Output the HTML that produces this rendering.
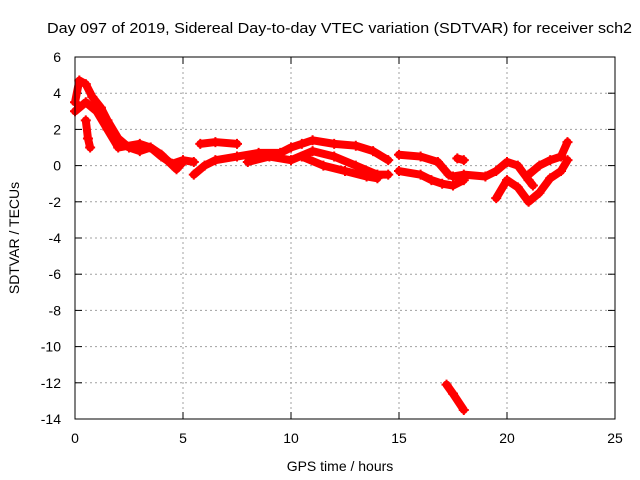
<!DOCTYPE html>
<html><head><meta charset="utf-8"><style>
body{margin:0;background:#fff;}
svg{display:block;font-family:"Liberation Sans",sans-serif;font-size:14px;}
</style></head><body>
<svg id="chart" width="640" height="480">
<rect width="640" height="480" fill="#fff"/>
<text x="47" y="33" textLength="585" lengthAdjust="spacingAndGlyphs" font-size="15">Day 097 of 2019, Sidereal Day-to-day VTEC variation (SDTVAR) for receiver sch2</text>
<text x="340" y="471" text-anchor="middle">GPS time / hours</text>
<text transform="translate(19,238) rotate(-90)" text-anchor="middle">SDTVAR / TECUs</text>
<g id="grid"></g><g id="ticks"></g><g id="data"></g>
<rect x="75" y="57" width="540" height="362" fill="none" stroke="#000" stroke-width="1"/>
</svg>
<script>
const xTicks=[0,5,10,15,20,25];
const yTicks=[6,4,2,0,-2,-4,-6,-8,-10,-12,-14];
const trackA=[[0,3.5],[0.2,4.7],[0.5,4.5],[0.8,3.8],[1.2,3.2],[1.5,2.5],[2,1.5],[2.5,1],[3,0.8],[3.5,1],[4,0.5],[4.5,0.1],[5,0.3],[5.5,0.2]];
const trackSpike=[[0.5,2.5],[0.6,1.5],[0.7,1.0]];
const trackB=[[0,3],[0.5,3.5],[1,3],[1.5,2],[2,1],[3,1.2],[3.5,1],[4,0.6],[4.7,-0.2],[5,0.2]];
const trackC=[[5.8,1.2],[6.5,1.3],[7.5,1.2]];
const trackD=[[5.5,-0.5],[6,0],[6.5,0.3],[7.5,0.5],[8.5,0.7],[9.5,0.7],[10,1],[10.5,1.2],[11,1.4],[12,1.2],[13,1.1],[13.8,0.8],[14.5,0.3]];
const trackE=[[8,0.2],[9,0.5],[10,0.3],[11,0.8],[12,0.5],[13,0],[14,-0.5],[14.5,-0.5]];
const trackF=[[10.5,0.5],[11.5,0],[12.5,-0.3],[13.5,-0.6],[14,-0.7]];
const trackG=[[15,0.6],[16,0.5],[16.8,0.2],[17.3,-0.5],[17.5,-0.6],[18,-0.5],[19,-0.6],[19.5,-0.3],[20,0.2],[20.5,0.0],[21,-0.8],[21.2,-1.1]];
const trackH=[[15,-0.3],[16,-0.5],[16.5,-0.8],[17,-1.0],[17.5,-1.1],[18,-0.8]];
const trackI=[[17.7,0.4],[18,0.3]];
const trackJ=[[19.5,-1.8],[20,-0.8],[20.5,-1.2],[21,-2],[21.5,-1.5],[22,-0.7],[22.5,-0.3],[22.8,0.3]];
const trackK=[[21,-0.5],[21.5,0],[22,0.3],[22.5,0.5],[22.8,1.3]];
const trackL=[[17.2,-12.1],[17.5,-12.6],[18,-13.5]];
const tracks=[trackA,trackSpike,trackB,trackC,trackD,trackE,trackF,trackG,trackH,trackI,trackJ,trackK,trackL];
const NS="http://www.w3.org/2000/svg";
const X=v=>75+(v-0)/25*540, Y=v=>57+(6-v)/20*362;
function mk(t,a,p){const e=document.createElementNS(NS,t);for(const k in a)e.setAttribute(k,a[k]);p.appendChild(e);return e;}
const grid=document.getElementById('grid'),ticks=document.getElementById('ticks'),data=document.getElementById('data');
xTicks.forEach(v=>{
 if(v>0&&v<25){const g=mk('line',{x1:X(v),x2:X(v),y1:57,y2:419,stroke:'#a0a0a0','stroke-dasharray':'2,3'},grid);
 
 }
 mk('line',{x1:X(v),x2:X(v),y1:419,y2:412,stroke:'#000'},ticks);
 mk('line',{x1:X(v),x2:X(v),y1:57,y2:64,stroke:'#000'},ticks);
 const t=mk('text',{x:X(v),y:443,'text-anchor':'middle'},ticks);t.textContent=v;
 
 
});
yTicks.forEach(v=>{
 if(v<6&&v>-14){const g=mk('line',{x1:75,x2:615,y1:Y(v),y2:Y(v),stroke:'#a0a0a0','stroke-dasharray':'2,3'},grid);
 
 }
 mk('line',{x1:75,x2:82,y1:Y(v),y2:Y(v),stroke:'#000'},ticks);
 mk('line',{x1:608,x2:615,y1:Y(v),y2:Y(v),stroke:'#000'},ticks);
 const t=mk('text',{x:61,y:Y(v)+5,'text-anchor':'end'},ticks);t.textContent=v;
 
 
});
tracks.forEach(tr=>{
 const pl=mk('polyline',{points:tr.map(p=>X(p[0])+','+Y(p[1])).join(' '),fill:'none',stroke:'#f00','stroke-width':8,'stroke-linejoin':'round','stroke-linecap':'round'},data);
 
 
 tr.forEach(p=>{
  const m=mk('path',{d:`M${X(p[0])-5},${Y(p[1])}h10M${X(p[0])},${Y(p[1])-5}v10`,stroke:'#f00','stroke-width':2},data);
  
  
 });
});
</script>
</body></html>
